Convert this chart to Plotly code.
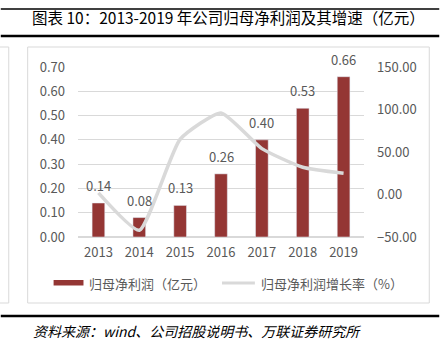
import plotly.graph_objects as go

years = ["2013", "2014", "2015", "2016", "2017", "2018", "2019"]
profit = [0.14, 0.08, 0.13, 0.26, 0.40, 0.53, 0.66]
growth = [2, -42, 65, 96, 54, 32, 25]

title_text = "图表 10：2013-2019 年公司归母净利润及其增速（亿元）"
source_text = "资料来源：wind、公司招股说明书、万联证券研究所"
bar_name = "归母净利润（亿元）"
line_name = "归母净利润增长率（%）"

W, H = 448, 344
L, R, T, B = 77.5, 364.5, 67, 237
PW, PH = R - L, B - T

def px(x):
    return (x - L) / PW

def py(y):
    return (B - y) / PH

FONT = "Noto Sans CJK SC"
GRAY = "#595959"
RED = "#943634"
LGRAY = "#d9d9d9"

fig = go.Figure()
fig.add_trace(go.Bar(x=years, y=profit, name=bar_name, marker_color=RED,
                     width=0.31, showlegend=False, yaxis="y"))
fig.add_trace(go.Scatter(x=years, y=growth, name=line_name, mode="lines",
                         line=dict(color=LGRAY, width=3.5, shape="spline", smoothing=0.5),
                         showlegend=False, yaxis="y2"))

anns = []
for i, v in enumerate(profit):
    anns.append(dict(x=i, y=v, xref="x", yref="y", text=f"{v:.2f}", showarrow=False,
                     yanchor="bottom", yshift=6, font=dict(size=13, color=GRAY, family=FONT)))

anns.append(dict(x=px(29), y=py(17), xref="paper", yref="paper", text=title_text,
                 showarrow=False, xanchor="left", yanchor="middle",
                 font=dict(size=15.5, color="#000000", family=FONT)))
anns.append(dict(x=px(30), y=py(331), xref="paper", yref="paper",
                 text="<i>" + source_text + "</i>",
                 showarrow=False, xanchor="left", yanchor="middle",
                 font=dict(size=14, color="#000000", family=FONT)))
anns.append(dict(x=px(87), y=py(283), xref="paper", yref="paper", text=bar_name,
                 showarrow=False, xanchor="left", yanchor="middle",
                 font=dict(size=13, color=GRAY, family=FONT)))
anns.append(dict(x=px(259), y=py(283), xref="paper", yref="paper", text=line_name,
                 showarrow=False, xanchor="left", yanchor="middle",
                 font=dict(size=13, color=GRAY, family=FONT)))

shapes = [
    dict(type="line", xref="paper", yref="paper", x0=px(0), x1=px(440), y0=py(9), y1=py(9),
         line=dict(color="#000000", width=1.5)),
    dict(type="line", xref="paper", yref="paper", x0=px(0), x1=px(440), y0=py(36), y1=py(36),
         line=dict(color="#000000", width=2.5)),
    dict(type="line", xref="paper", yref="paper", x0=px(0), x1=px(440), y0=py(316), y1=py(316),
         line=dict(color="#000000", width=2.5)),
    dict(type="rect", xref="paper", yref="paper", x0=px(27), x1=px(430), y0=py(303), y1=py(47),
         line=dict(color=LGRAY, width=1), layer="below"),
    dict(type="rect", xref="paper", yref="paper", x0=px(-10), x1=px(8), y0=py(303), y1=py(47),
         line=dict(color=LGRAY, width=1), layer="below"),
    dict(type="rect", xref="paper", yref="paper", x0=px(53), x1=px(83), y0=py(285.5), y1=py(280),
         line=dict(width=0), fillcolor=RED),
    dict(type="line", xref="paper", yref="paper", x0=px(222), x1=px(255), y0=py(283), y1=py(283),
         line=dict(color=LGRAY, width=3)),
]

fig.update_layout(
    width=W, height=H,
    margin=dict(l=L, r=W - R, t=T, b=H - B, pad=0),
    paper_bgcolor="white", plot_bgcolor="white",
    font=dict(family=FONT, color=GRAY, size=13),
    xaxis=dict(type="category", range=[-0.5, len(years) - 0.5], showgrid=False,
               showline=False, zeroline=False,
               ticks="", tickfont=dict(size=13, color=GRAY), ticklabelstandoff=6),
    yaxis=dict(range=[0, 0.7], dtick=0.1, tickformat=".2f", showgrid=True,
               gridcolor=LGRAY, gridwidth=1, zeroline=True, zerolinecolor=LGRAY,
               showline=False, ticks="", tickfont=dict(size=13, color=GRAY),
               ticklabelstandoff=12),
    yaxis2=dict(range=[-50, 150], dtick=50, tickformat=".2f", overlaying="y", side="right",
                showgrid=False, zeroline=False, showline=False, ticks="",
                tickfont=dict(size=13, color=GRAY), ticklabelstandoff=12),
    annotations=anns,
    shapes=shapes,
)

fig.write_html("out.html")
